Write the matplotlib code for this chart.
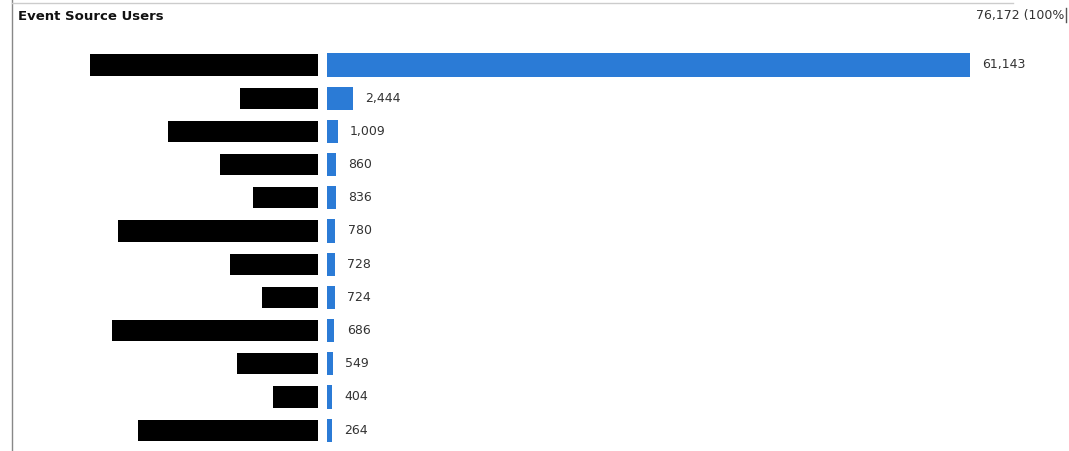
import matplotlib
matplotlib.use('Agg')
import matplotlib.pyplot as plt
from matplotlib.lines import Line2D

# ── Data ──
title = 'Event Source Users'
total_label = '76,172 (100%'
values = [61143, 2444, 1009, 860, 836, 780, 728, 724, 686, 549, 404, 264, 250]
# the 13th row is cut off by the bottom edge, its label is not visible
value_labels = ['61,143', '2,444', '1,009', '860', '836', '780', '728',
                '724', '686', '549', '404', '264']
# left edge (px) of the black redaction over each hidden category name
redact_start = [90, 240, 168, 220, 253, 118, 230, 262, 112, 237, 273, 138, 180]

W, H = 1069, 451
fig = plt.figure(figsize=(W / 100, H / 100), dpi=100)
fig.patch.set_facecolor('white')

row_top = 65      # px centre of first row
row_step = 33.2   # px between rows
y_min = -row_top / row_step
y_max = (H - row_top) / row_step

# ── Bars axes ──
bar_left = 327
scale_px = 643 / values[0]
ax = fig.add_axes([bar_left / W, 0, (W - bar_left) / W, 1])
ax.set_xlim(0, (W - bar_left) / scale_px)
ax.set_ylim(y_max, y_min)
ax.axis('off')

rows = list(range(len(values)))
widths = [max(v, 5 / scale_px) for v in values]
ax.barh(rows, widths, height=0.7, color='#2b7bd6', edgecolor='none')
for r, w, lab in zip(rows, widths, value_labels):
    ax.annotate(lab, (w, r), xytext=(9, 0), textcoords='offset points',
                va='center', ha='left', fontsize=9, color='#333333',
                annotation_clip=False)

# ── Redacted category names ──
lab_ax = fig.add_axes([0, 0, bar_left / W, 1])
lab_ax.set_xlim(0, bar_left)
lab_ax.set_ylim(y_max, y_min)
lab_ax.axis('off')
lab_ax.barh(rows, [318 - s for s in redact_start], left=redact_start,
            height=0.64, color='black', edgecolor='none')

# ── Frame and header ──
fig.add_artist(Line2D([12 / W, 12 / W], [0, 1], color='#888888', linewidth=1.0))
fig.add_artist(Line2D([12 / W, 1013 / W], [1 - 3 / H, 1 - 3 / H], color='#cccccc', linewidth=1.0))
fig.add_artist(Line2D([1066 / W, 1066 / W], [1 - 8 / H, 1 - 22 / H], color='#555555', linewidth=1.0))
fig.text(18 / W, 1 - 16 / H, title, fontsize=9.5, fontweight='bold',
         color='#111111', va='center', ha='left')
fig.text(1064 / W, 1 - 16 / H, total_label, fontsize=9,
         color='#333333', va='center', ha='right')

fig.savefig('out.png', dpi=100, facecolor='white')
